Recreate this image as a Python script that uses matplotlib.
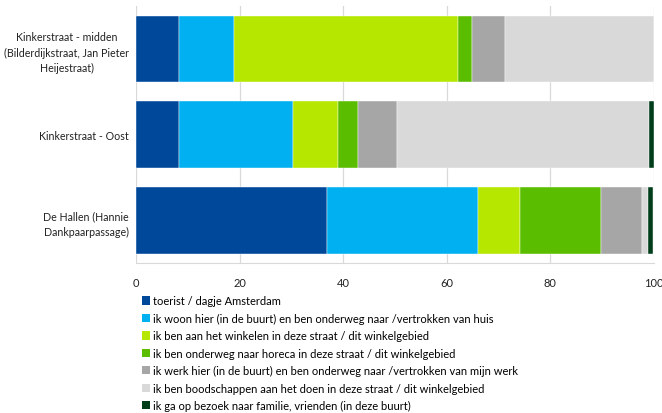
import matplotlib
matplotlib.use('Agg')
import matplotlib.pyplot as plt
from matplotlib.patches import Patch
import numpy as np

plt.rcParams['font.family'] = ['Lato', 'DejaVu Sans']

locations = ['Kinkerstraat - midden\n(Bilderdijkstraat, Jan Pieter\nHeijestraat)',
             'Kinkerstraat - Oost',
             'De Hallen (Hannie\nDankpaarpassage)']

reasons = ['toerist / dagje Amsterdam',
           'ik woon hier (in de buurt) en ben onderweg naar /vertrokken van huis',
           'ik ben aan het winkelen in deze straat / dit winkelgebied',
           'ik ben onderweg naar horeca in deze straat / dit winkelgebied',
           'ik werk hier (in de buurt) en ben onderweg naar /vertrokken van mijn werk',
           'ik ben boodschappen aan het doen in deze straat / dit winkelgebied',
           'ik ga op bezoek naar familie, vrienden (in deze buurt)']

# percentages per location, one list per reason
toerist      = [8.4, 8.4, 36.9]
woon         = [10.6, 22.0, 29.2]
winkelen     = [43.2, 8.6, 8.0]
horeca       = [2.6, 3.8, 15.7]
werk         = [6.4, 7.6, 7.8]
boodschappen = [28.8, 48.6, 1.2]
familie      = [0.0, 1.0, 1.1]

series = [toerist, woon, winkelen, horeca, werk, boodschappen, familie]
colors = ['#00489A', '#00B0F0', '#B5E700', '#5BBD00', '#A6A6A6', '#D9D9D9', '#003D1A']

fig = plt.figure(figsize=(6.62, 4.14), dpi=100)
ax = fig.add_axes([0.2054, 0.3614, 0.7825, 0.6213])

y = np.arange(len(locations))
left = np.zeros(len(locations))
for vals, c in zip(series, colors):
    ax.barh(y, vals, left=left, height=0.78, color=c, edgecolor='white',
            linewidth=0.3, zorder=3)
    left += np.array(vals)

ax.set_xlim(0, 100)
ax.set_ylim(2.5, -0.5)
ax.set_xticks([0, 20, 40, 60, 80, 100])
ax.set_yticks(y)
ax.set_yticklabels(locations, multialignment='center', fontsize=7.7,
                   linespacing=1.5)
ax.tick_params(axis='both', length=0, colors='#222222')
ax.tick_params(axis='x', pad=10, labelsize=8)
ax.tick_params(axis='y', pad=5)
ax.grid(axis='x', color='#D9D9D9', linewidth=0.9, zorder=0)
for s in ['top', 'right', 'left']:
    ax.spines[s].set_visible(False)
ax.spines['bottom'].set_color('#D9D9D9')

handles = [Patch(facecolor=c, edgecolor='none') for c in colors]
fig.legend(handles, reasons, loc='upper left', bbox_to_anchor=(0.2145, 0.284),
           frameon=False, fontsize=8, handlelength=0.75, handleheight=0.75,
           handletextpad=0.2, labelspacing=0.58, borderpad=0, borderaxespad=0)

fig.savefig('out.png', dpi=100)
